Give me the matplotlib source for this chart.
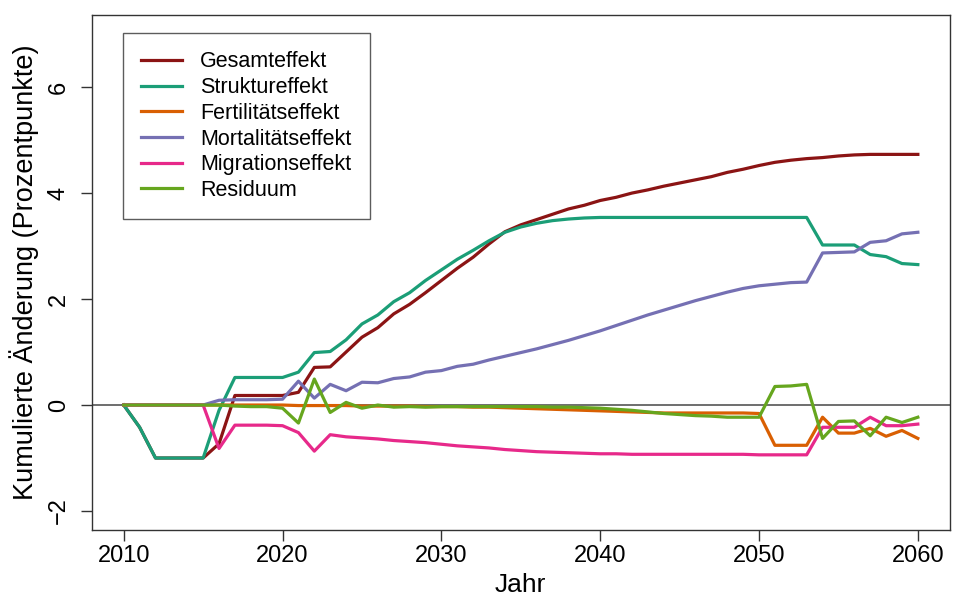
import numpy as np
import matplotlib
matplotlib.use("Agg")
import matplotlib.pyplot as plt

plt.rcParams['font.family'] = ['Liberation Sans', 'DejaVu Sans']

years = np.arange(2010, 2061)

gesamt = [0.00, -0.42, -1.00, -1.00, -1.00, -1.00, -0.73, 0.18, 0.18, 0.18,
          0.18, 0.24, 0.71, 0.72, 1.00, 1.28, 1.46, 1.72, 1.90, 2.12,
          2.35, 2.58, 2.79, 3.04, 3.27, 3.40, 3.50, 3.60, 3.70, 3.77,
          3.86, 3.92, 4.00, 4.06, 4.13, 4.19, 4.25, 4.31, 4.39, 4.45,
          4.52, 4.58, 4.62, 4.65, 4.67, 4.70, 4.72, 4.73, 4.73, 4.73,
          4.73]
struktur = [0.00, -0.42, -1.00, -1.00, -1.00, -1.00, -0.10, 0.52, 0.52, 0.52,
            0.52, 0.62, 0.99, 1.01, 1.23, 1.53, 1.70, 1.95, 2.12, 2.35,
            2.55, 2.75, 2.92, 3.10, 3.26, 3.36, 3.43, 3.48, 3.51, 3.53,
            3.54, 3.54, 3.54, 3.54, 3.54, 3.54, 3.54, 3.54, 3.54, 3.54,
            3.54, 3.54, 3.54, 3.54, 3.02, 3.02, 3.02, 2.84, 2.80, 2.67,
            2.65]
fertilitaet = [0.00, 0.00, 0.00, 0.00, 0.00, 0.00, 0.00, 0.00, 0.00, 0.00,
               0.00, -0.01, -0.01, -0.01, -0.01, -0.02, -0.02, -0.02, -0.02, -0.03,
               -0.03, -0.03, -0.04, -0.04, -0.05, -0.06, -0.07, -0.08, -0.09, -0.10,
               -0.11, -0.12, -0.13, -0.14, -0.15, -0.15, -0.15, -0.15, -0.15, -0.15,
               -0.16, -0.76, -0.76, -0.76, -0.23, -0.53, -0.53, -0.44, -0.59, -0.48,
               -0.63]
mortalitaet = [0.00, 0.00, 0.00, 0.00, 0.00, 0.00, 0.09, 0.10, 0.10, 0.10,
               0.11, 0.45, 0.13, 0.39, 0.27, 0.43, 0.42, 0.50, 0.53, 0.62,
               0.65, 0.73, 0.77, 0.85, 0.92, 0.99, 1.06, 1.14, 1.22, 1.31,
               1.40, 1.50, 1.60, 1.70, 1.79, 1.88, 1.97, 2.05, 2.13, 2.20,
               2.25, 2.28, 2.31, 2.32, 2.87, 2.88, 2.89, 3.07, 3.10, 3.23,
               3.26]
migration = [0.00, 0.00, 0.00, 0.00, 0.00, 0.00, -0.82, -0.38, -0.38, -0.38,
             -0.39, -0.52, -0.87, -0.56, -0.60, -0.62, -0.64, -0.67, -0.69, -0.71,
             -0.74, -0.77, -0.79, -0.81, -0.84, -0.86, -0.88, -0.89, -0.90, -0.91,
             -0.92, -0.92, -0.93, -0.93, -0.93, -0.93, -0.93, -0.93, -0.93, -0.93,
             -0.94, -0.94, -0.94, -0.94, -0.42, -0.42, -0.42, -0.23, -0.39, -0.39,
             -0.36]
residuum = [0.00, 0.00, 0.00, 0.00, 0.00, 0.00, 0.00, -0.02, -0.03, -0.03,
            -0.06, -0.34, 0.49, -0.14, 0.05, -0.06, 0.00, -0.04, -0.03, -0.04,
            -0.03, -0.03, -0.03, -0.03, -0.03, -0.03, -0.03, -0.04, -0.04, -0.05,
            -0.06, -0.08, -0.10, -0.13, -0.16, -0.18, -0.20, -0.21, -0.23, -0.23,
            -0.23, 0.35, 0.36, 0.39, -0.63, -0.31, -0.30, -0.58, -0.23, -0.33,
            -0.23]

labels = ["Gesamteffekt", "Struktureffekt", "Fertilitätseffekt",
          "Mortalitätseffekt", "Migrationseffekt", "Residuum"]
colors = ["#8B1414", "#1B9E77", "#D95F02", "#7570B3", "#E7298A", "#66A61E"]
series = [gesamt, struktur, fertilitaet, mortalitaet, migration, residuum]

fig = plt.figure(figsize=(9.54, 6.01), dpi=100)
ax = fig.add_axes([0.0964, 0.118, 0.899, 0.857])

ax.axhline(0, color="#555555", lw=1.2, zorder=1)
for vals, col, lab in zip(series, colors, labels):
    ax.plot(years, vals, color=col, lw=2.3, label=lab, zorder=2)

ax.set_xlim(2008, 2062)
ax.set_ylim(-2.36, 7.36)
ax.set_xticks([2010, 2020, 2030, 2040, 2050, 2060])
ax.set_yticks([-2, 0, 2, 4, 6])
ax.tick_params(axis="both", direction="out", length=8, width=1,
               labelsize=17, color="#333333", pad=3)
ax.tick_params(axis="y", labelrotation=90, pad=8)
for lab in ax.get_yticklabels():
    lab.set_va("center")
for sp in ax.spines.values():
    sp.set_color("#333333")
    sp.set_linewidth(1)

ax.set_xlabel("Jahr", fontsize=19, labelpad=4)
ax.set_ylabel("Kumulierte Änderung (Prozentpunkte)", fontsize=19.5, labelpad=6)

leg = ax.legend(loc="upper left", bbox_to_anchor=(0.036, 0.965),
                fontsize=15.5, frameon=True, fancybox=False,
                handlelength=1.9, handletextpad=0.85, labelspacing=0.22,
                borderpad=0.85, borderaxespad=0)
leg.get_frame().set_edgecolor("#333333")
leg.get_frame().set_linewidth(1)

fig.savefig("out.png", dpi=100)
